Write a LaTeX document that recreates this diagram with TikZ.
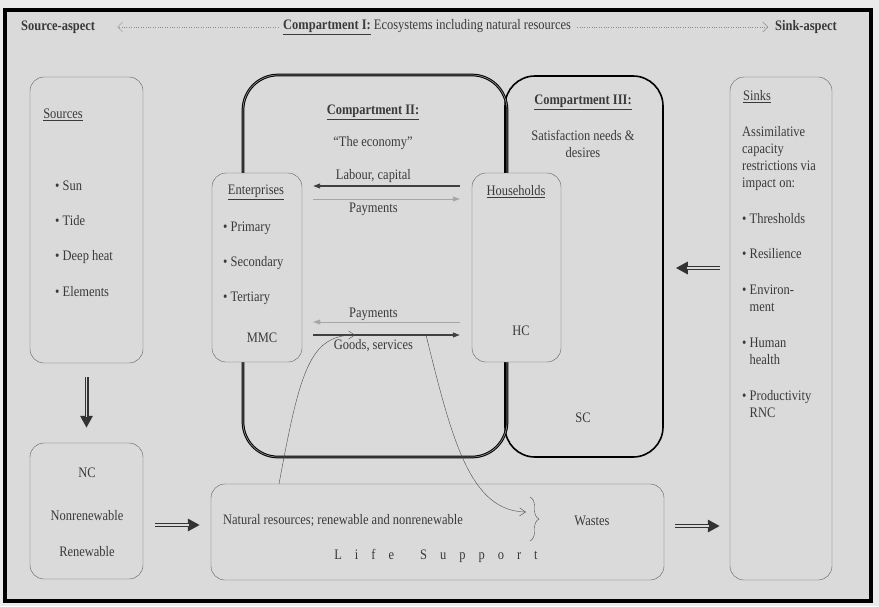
\documentclass[tikz,border=0pt]{standalone}
\usepackage{fontspec}
\setmainfont[FakeStretch=0.86]{Liberation Serif}
\usetikzlibrary{arrows.meta, positioning, decorations.pathreplacing}
\definecolor{paper}{HTML}{DADADA}
\definecolor{ink}{HTML}{3A3A3A}
\definecolor{rim}{HTML}{5E5E5E}
\newcommand{\lsgap}{\hspace{13pt}}

\begin{document}
\begin{tikzpicture}[
	x=1pt, y=-1pt,
	>=Stealth,
	every node/.style={font=\fontsize{14.5}{17}\selectfont, text=ink, inner sep=1pt},
	head/.style={font=\fontsize{14.5}{17}\selectfont\bfseries},
	box/.style={draw=rim, thin, fill=paper, rounded corners=14pt},
	fat arrow/.style={draw=black!80, line width=4pt, -{Triangle[length=12pt,width=12pt]},
		postaction={draw=paper, line width=1.8pt, shorten >=11pt, -}},
	flow/.style={black!75, line width=1.1pt, -{Triangle[length=7pt,width=5pt]}},
	cash/.style={black!35, thin, -{Triangle[length=7pt,width=5pt]}},
	aspect/.style={black!45, dotted, thin, -{Straight Barb[length=5pt,width=10pt]}},
	link/.style={black!70, thin, -{Straight Barb[length=6pt,width=8pt]}}
	]
	% =====================================================
	% FRAME
	% =====================================================
	\fill[black!8] (0,0) rectangle (879,606);
	\draw[line width=3.5pt, fill=paper] (5,10) rectangle (871,601);

	% =====================================================
	% COMPARTMENT I (top line)
	% =====================================================
	\node[head, anchor=west] (srcasp) at (20,27) {Source-aspect};
	\node[anchor=west] (comp1) at (282,27) {\textbf{\underline{Compartment I:}} Ecosystems including natural resources};
	\node[head, anchor=west] (sinkasp) at (774,27) {Sink-aspect};
	\draw[aspect, shorten <=4pt, shorten >=21pt] (comp1) -- (srcasp);
	\draw[aspect, shorten <=5pt, shorten >=6pt] (comp1) -- (sinkasp);

	% =====================================================
	% SOURCES AND NC
	% =====================================================
	\node[box, minimum width=113pt, minimum height=286pt] (src) at (86.5,220) {};
	\node (srctitle) at (63,115) {\underline{Sources}};
	\node[anchor=base west] (sun) at (54,190) {\textbullet~Sun};
	\node[anchor=base west] (tide) at (54,225) {\textbullet~Tide};
	\node[anchor=base west] (heat) at (54,260) {\textbullet~Deep heat};
	\node[anchor=base west] (elem) at (54,296) {\textbullet~Elements};

	\node[box, minimum width=113pt, minimum height=136pt] (nc) at (86.5,511) {};
	\node (nclbl) at (87,473) {NC};
	\node (ncnon) at (87,516) {Nonrenewable};
	\node (ncren) at (87,552) {Renewable};

	\draw[fat arrow] ([yshift=-14pt]src.south) -- ([yshift=15pt]nc.north);

	% =====================================================
	% LIFE SUPPORT
	% =====================================================
	\node[box, minimum width=453pt, minimum height=96pt] (life) at (437.5,532) {};
	\node[anchor=west] (natres) at (222,521) {Natural resources; renewable and nonrenewable};
	\node (lifesup) at (436,556) {L\lsgap i\lsgap f\lsgap e\hspace{26pt}S\lsgap u\lsgap p\lsgap p\lsgap o\lsgap r\lsgap t};
	\draw[black!70, decorate, decoration={brace, amplitude=9pt}] (530,497) -- (530,541);
	\node (wastes) at (592,521) {Wastes};

	\draw[fat arrow] ([shift={(12pt,-14pt)}]nc.east) -- ([shift={(-11pt,-14pt)}]nc.east -| life.west);

	% =====================================================
	% SINKS
	% =====================================================
	\node[box, minimum width=102pt, minimum height=503pt] (sinks) at (781,328.5) {};
	\node (sinktitle) at (757,97) {\underline{Sinks}};
	\node[anchor=north west, align=left] (assim) at (741,125) {Assimilative\\capacity\\restrictions via\\impact on:};
	\node[anchor=base west] (thresh) at (741,223) {\textbullet~Thresholds};
	\node[anchor=base west] (resil) at (741,258) {\textbullet~Resilience};
	\node[anchor=base west] (envir) at (741,294) {\textbullet~\begin{tabular}[t]{@{}l@{}}Environ-\\ment\end{tabular}};
	\node[anchor=base west] (health) at (741,347) {\textbullet~\begin{tabular}[t]{@{}l@{}}Human\\health\end{tabular}};
	\node[anchor=base west] (prod) at (741,400) {\textbullet~\begin{tabular}[t]{@{}l@{}}Productivity\\RNC\end{tabular}};

	\draw[fat arrow] ([shift={(11pt,6pt)}]life.east) -- ([shift={(-10pt,6pt)}]life.east -| sinks.west);

	% =====================================================
	% COMPARTMENTS II AND III
	% =====================================================
	\node[draw=black, line width=1.6pt, rounded corners=30pt, minimum width=158pt, minimum height=381pt] (comp3) at (584,266.5) {};
	\node[draw=black, double=black!45, double distance=0.7pt, line width=1pt, rounded corners=35pt, minimum width=264pt, minimum height=382pt] (comp2) at (375,266) {};

	\node[head] (comp2title) at (373,112) {\underline{Compartment II:}};
	\node (economy) at (373,143) {“The economy”};
	\node[head] (comp3title) at (583,102) {\underline{Compartment III:}};
	\node[align=center] (satis) at (583,144) {Satisfaction needs \&\\desires};
	\node (sclbl) at (583,418) {SC};

	\draw[fat arrow] ([shift={(-10pt,60.5pt)}]sinks.west) -- ([shift={(12pt,60.5pt)}]sinks.west -| comp3.east);

	% =====================================================
	% ENTERPRISES AND HOUSEHOLDS
	% =====================================================
	\node[box, minimum width=90pt, minimum height=189pt] (ent) at (257,267.5) {};
	\node (enttitle) at (256,192) {\underline{Enterprises}};
	\node[anchor=base west] (prim) at (222,231) {\textbullet~Primary};
	\node[anchor=base west] (sec) at (222,266) {\textbullet~Secondary};
	\node[anchor=base west] (tert) at (222,301) {\textbullet~Tertiary};
	\node (mmc) at (262,338) {MMC};

	\node[box, minimum width=89pt, minimum height=189pt] (hh) at (516.5,267.5) {};
	\node (hhtitle) at (516,192) {\underline{Households}};
	\node (hclbl) at (521,331) {HC};

	% flows between enterprises and households
	\draw[flow, shorten <=12pt, shorten >=11pt] ([yshift=81.5pt]hh.west) -- ([yshift=81.5pt]hh.west -| ent.east) node[pos=0.58, above=2pt] {Labour, capital};
	\draw[cash, shorten <=11pt, shorten >=12pt] ([yshift=68.5pt]ent.east) -- ([yshift=68.5pt]ent.east -| hh.west) node[pos=0.42, below=3pt] {Payments};
	\draw[cash, shorten <=12pt, shorten >=11pt] ([yshift=-54.5pt]hh.west) -- ([yshift=-54.5pt]hh.west -| ent.east) node[pos=0.58, above=0pt] {Payments};
	\draw[flow, shorten <=11pt, shorten >=12pt] ([yshift=-67.5pt]ent.east) -- ([yshift=-67.5pt]ent.east -| hh.west) node[pos=0.42, below=3pt] {Goods, services};

	% =====================================================
	% RESOURCE AND WASTE LINKS
	% =====================================================
	\coordinate (resUp) at (279,484);
	\coordinate (resIn) at (355,335);
	\draw[link] (resUp) .. controls (300,370) and (310,335) .. (resIn);
	\coordinate (wasteOut) at (426,335);
	\coordinate (wasteIn) at (526,512);
	\draw[link] (wasteOut) .. controls (452,440) and (470,511) .. (wasteIn);

\end{tikzpicture}
\end{document}
